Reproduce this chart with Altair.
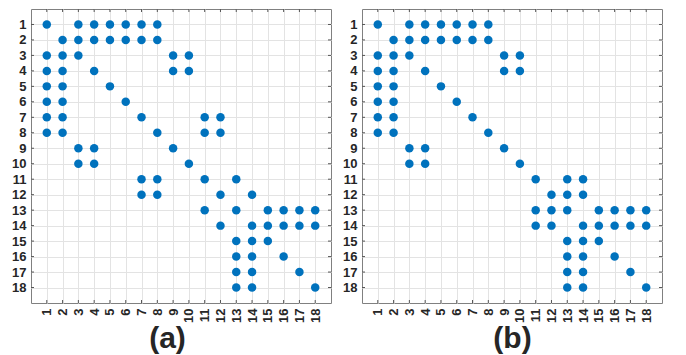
import altair as alt
import pandas as pd

# ---- data: for each row, the columns that hold a dot ----
ticks = list(range(1, 19))

a_rows = {
    1: [1, 3, 4, 5, 6, 7, 8],
    2: [2, 3, 4, 5, 6, 7, 8],
    3: [1, 2, 3, 9, 10],
    4: [1, 2, 4, 9, 10],
    5: [1, 2, 5],
    6: [1, 2, 6],
    7: [1, 2, 7, 11, 12],
    8: [1, 2, 8, 11, 12],
    9: [3, 4, 9],
    10: [3, 4, 10],
    11: [7, 8, 11, 13],
    12: [7, 8, 12, 14],
    13: [11, 13, 15, 16, 17, 18],
    14: [12, 14, 15, 16, 17, 18],
    15: [13, 14, 15],
    16: [13, 14, 16],
    17: [13, 14, 17],
    18: [13, 14, 18],
}

b_rows = {
    1: [1, 3, 4, 5, 6, 7, 8],
    2: [2, 3, 4, 5, 6, 7, 8],
    3: [1, 2, 3, 9, 10],
    4: [1, 2, 4, 9, 10],
    5: [1, 2, 5],
    6: [1, 2, 6],
    7: [1, 2, 7],
    8: [1, 2, 8],
    9: [3, 4, 9],
    10: [3, 4, 10],
    11: [11, 13, 14],
    12: [12, 13, 14],
    13: [11, 12, 13, 15, 16, 17, 18],
    14: [11, 12, 14, 15, 16, 17, 18],
    15: [13, 14, 15],
    16: [13, 14, 16],
    17: [13, 14, 17],
    18: [13, 14, 18],
}

panel_labels = ["(a)", "(b)"]

W, H = 300, 294
DOT = "#0072BD"
TXT = "#262626"
FONT = "Liberation Sans"


def to_frame(rows):
    recs = [{"row": r, "col": c} for r, cols in rows.items() for c in cols]
    return pd.DataFrame(recs)


def panel(rows, label, title_x):
    xscale = alt.Scale(domain=[0, 19], nice=False, zero=False)
    yscale = alt.Scale(domain=[0, 19], nice=False, zero=False, reverse=True)
    xaxis = alt.Axis(values=ticks, labelAngle=-90, title=label,
                     titleFontSize=30, titleFontWeight="bold", titleColor=TXT,
                     titleFont=FONT, titlePadding=1, titleX=title_x,
                     titleAlign="center",
                     labelFont=FONT, labelFontSize=13, labelFontWeight="bold",
                     labelColor=TXT, labelPadding=5, ticks=False, domain=False,
                     grid=True, gridColor="#e3e3e3", labelFlush=False)
    yaxis = alt.Axis(values=ticks, title=None,
                     labelFont=FONT, labelFontSize=13, labelFontWeight="bold",
                     labelColor=TXT, labelPadding=5, ticks=False, domain=False,
                     grid=True, gridColor="#e3e3e3", labelFlush=False)
    X = alt.X("col:Q", scale=xscale, axis=xaxis)
    Y = alt.Y("row:Q", scale=yscale, axis=yaxis)

    tdf = pd.DataFrame({"row": ticks, "col": ticks})
    tick_color = "#555555"
    left = alt.Chart(tdf).mark_rule(color=tick_color, strokeWidth=1).encode(
        y=Y, x=alt.value(0), x2=alt.value(3))
    right = alt.Chart(tdf).mark_rule(color=tick_color, strokeWidth=1).encode(
        y=Y, x=alt.value(W - 3), x2=alt.value(W))
    top = alt.Chart(tdf).mark_rule(color=tick_color, strokeWidth=1).encode(
        x=X, y=alt.value(0), y2=alt.value(3))
    bottom = alt.Chart(tdf).mark_rule(color=tick_color, strokeWidth=1).encode(
        x=X, y=alt.value(H - 3), y2=alt.value(H))

    pts = alt.Chart(to_frame(rows)).mark_circle(
        size=72, color=DOT, opacity=1).encode(x=X, y=Y)

    return alt.layer(left, right, top, bottom, pts).properties(width=W, height=H)


chart = alt.hconcat(
    panel(a_rows, panel_labels[0], 136),
    panel(b_rows, panel_labels[1], 150),
    spacing=10,
).properties(
    padding={"left": 3, "top": 0, "right": 0, "bottom": 0},
    background="white",
).configure_view(
    stroke="#808080", strokeWidth=1
)

chart.save("out.html", embed_options={"renderer": "svg", "actions": False})
